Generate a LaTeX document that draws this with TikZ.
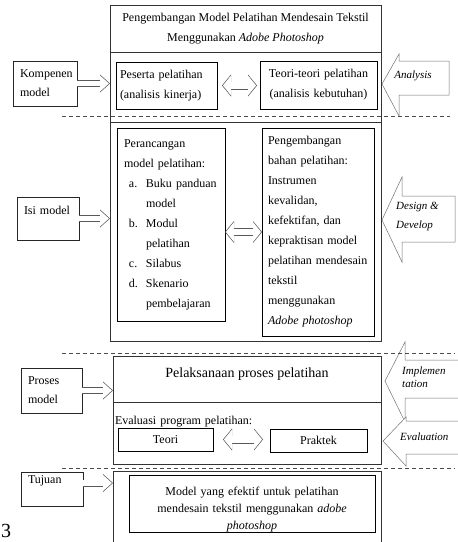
\documentclass[tikz,border=0pt]{standalone}
\usepackage{fontspec}
\setmainfont{Liberation Serif}
\usetikzlibrary{arrows.meta,calc,positioning}
\newcommand{\butir}[1]{\hspace*{5pt}\makebox[17pt][l]{#1}}
\tikzset{
  bingkai/.style={
    draw=black!80,
    line width=0.6pt,
    outer sep=0pt,
    inner sep=4pt,
    align=center,
    font=\fontsize{12}{20}\selectfont
  },
  kotak/.style={
    draw=black,
    line width=0.5pt,
    outer sep=0pt,
    inner sep=4pt,
    align=center,
    font=\fontsize{12}{20}\selectfont
  },
  komponen/.style={
    draw=black!85,
    line width=0.6pt,
    outer sep=0pt,
    inner xsep=7pt,
    inner ysep=4pt,
    align=left,
    font=\fontsize{12}{19}\selectfont
  },
  panah/.style={
    draw=white,
    line width=5.6pt,
    shorten >=1.05pt,
    -{Triangle[length=8.95pt, width=16.1pt, line width=0pt]},
    preaction={draw=black!65, line width=7pt, shorten >=0pt,
      -{Triangle[length=10pt, width=18pt, line width=0pt]}}
  },
  panahganda/.style={
    draw=white,
    line width=6.6pt,
    shorten >=0.9pt,
    shorten <=0.9pt,
    {Triangle[length=8.1pt, width=19.8pt, line width=0pt]}-{Triangle[length=8.1pt, width=19.8pt, line width=0pt]},
    preaction={draw=black!65, line width=8pt, shorten >=0pt, shorten <=0pt,
      {Triangle[length=9pt, width=22pt, line width=0pt]}-{Triangle[length=9pt, width=22pt, line width=0pt]}}
  },
  panahblok/.style={
    draw=black!55,
    line width=0.5pt,
    fill=white
  },
  teksblok/.style={
    font=\fontsize{11}{13}\selectfont\itshape,
    align=left,
    inner sep=1pt
  },
  pemisah/.style={
    draw=black!70,
    line width=0.6pt,
    dash pattern=on 4pt off 3pt
  }
}

\begin{document}
\begin{tikzpicture}[x=1pt, y=-1pt]
\useasboundingbox (0,0) rectangle (458,542);

% bingkai utama
\node[bingkai, minimum width=271pt, minimum height=47pt, anchor=north west] (judul) at (110,5)
  {Pengembangan Model Pelatihan Mendesain Tekstil\\Menggunakan \textit{Adobe Photoshop}};
\node[bingkai, minimum width=271pt, minimum height=70pt, below=0pt of judul] (analisis) {};
\node[bingkai, minimum width=271pt, minimum height=219pt, below=0pt of analisis] (desain) {};
\node[bingkai, minimum width=268pt, minimum height=46pt, text height=10pt, text depth=13pt,
  font=\fontsize{14}{20}\selectfont, anchor=north west] (pelaksanaan) at (113,356) {Pelaksanaan proses pelatihan};
\node[bingkai, text width=264pt, inner xsep=2pt, align=left, text height=18pt, text depth=36pt,
  below=0pt of pelaksanaan] (evaluasi) {Evaluasi program pelatihan:};
\node[bingkai, minimum width=268pt, minimum height=100pt, anchor=north west] (tujuanbox) at (113,471) {};

% isi bingkai
\node[kotak, text width=93pt, minimum height=47pt, align=left, anchor=north west] (peserta) at (116,62)
  {Peserta pelatihan\\(analisis kinerja)};
\node[kotak, text width=109pt, minimum height=48pt, anchor=north west] (teori) at (260,61)
  {Teori-teori pelatihan\\(analisis kebutuhan)};
\node[kotak, text width=94pt, inner xsep=7pt, minimum height=193pt, align=left, anchor=north west] (rancang) at (117,128)
  {Perancangan\\model pelatihan:\\\butir{a.}Buku panduan\\\hspace*{22pt}model\\\butir{b.}Modul\\\hspace*{22pt}pelatihan\\\butir{c.}Silabus\\\butir{d.}Skenario\\\hspace*{22pt}pembelajaran};
\node[kotak, text width=100pt, inner xsep=6pt, minimum height=208pt, align=left, anchor=north west] (bahan) at (262,128)
  {Pengembangan\\bahan pelatihan:\\Instrumen\\kevalidan,\\kefektifan, dan\\kepraktisan model\\pelatihan mendesain\\tekstil\\menggunakan\\\textit{Adobe photoshop}};
\node[kotak, minimum width=95pt, minimum height=23pt, anchor=north west] (teoriev) at (118,428) {Teori};
\node[kotak, minimum width=97pt, minimum height=23pt, anchor=north west] (praktek) at (270,429) {Praktek};
\node[kotak, text width=246pt, inner xsep=0pt, inner ysep=0pt, text height=20pt, text depth=37pt,
  font=\fontsize{12}{17}\selectfont, anchor=north west] (hasil) at (129,475)
  {Model yang efektif untuk pelatihan\\mendesain tekstil menggunakan \textit{adobe}\\\textit{photoshop}};

% komponen di kiri
\node[komponen, text width=50pt, minimum height=45pt, anchor=north west] (kompenen) at (13,61) {Kompenen\\model};
\node[komponen, text width=48pt, text height=13pt, text depth=22pt, anchor=north west] (isimodel) at (17,197) {Isi model};
\node[komponen, text width=47pt, minimum height=45pt, anchor=north west] (proses) at (21,368) {Proses\\model};
\node[komponen, text width=48pt, text height=7pt, text depth=19pt, anchor=north west] (tujuan) at (21,472) {Tujuan};

\draw[panah] (kompenen.east) -- (kompenen.east -| analisis.west);
\draw[panah] (isimodel.east) -- (isimodel.east -| desain.west);
\draw[panah] (proses.east) -- (proses.east -| pelaksanaan.west);
\draw[panah] ($(tujuan.east)+(0,-6)$) -- ($(tujuan.east -| tujuanbox.west)+(0,-6)$);

\draw[panahganda] ($(peserta.east)+(5,0)$) -- ($(peserta.east -| teori.west)+(-3,0)$);
\draw[panahganda] (rancang.east |- bahan) -- (bahan.west);
\draw[panahganda] ($(teoriev.east)+(10,0)$) -- ($(teoriev.east -| praktek.west)+(-7,0)$);

% tahapan di kanan
\draw[panahblok] (382,84) -- (399,54) -- (399,61) -- (449,61) -- (449,95) -- (399,95) -- (399,116) -- cycle;
\node[teksblok] (analysis) at (413,76) {Analysis};
\draw[panahblok] (382,220) -- (402,177) -- (402,196) -- (455,196) -- (455,242) -- (402,242) -- (402,262) -- cycle;
\node[teksblok, font=\fontsize{11}{19}\selectfont\itshape, anchor=west] (design) at (395,217) {Design \&\\Develop};
\draw[panahblok] (385,381) -- (405,342) -- (405,360) -- (470,360) -- (470,398) -- (405,398) -- (405,422) -- cycle;
\node[teksblok, anchor=west] (implementation) at (401,377) {Implemen\\tation};
\draw[panahblok] (383,441) -- (406,417) -- (406,421) -- (470,421) -- (470,454) -- (406,454) -- (406,466) -- cycle;
\node[teksblok, anchor=west] (evaluation) at (399,437) {Evaluation};

% garis pemisah
\draw[pemisah] (62,116) -- (450,116);
\draw[pemisah] (62,353) -- (455,353);
\draw[pemisah] (62,468) -- (455,468);

\node[font=\fontsize{20}{20}\selectfont, inner sep=0pt, anchor=west] (nomor) at (1,531) {3};
\end{tikzpicture}
\end{document}
